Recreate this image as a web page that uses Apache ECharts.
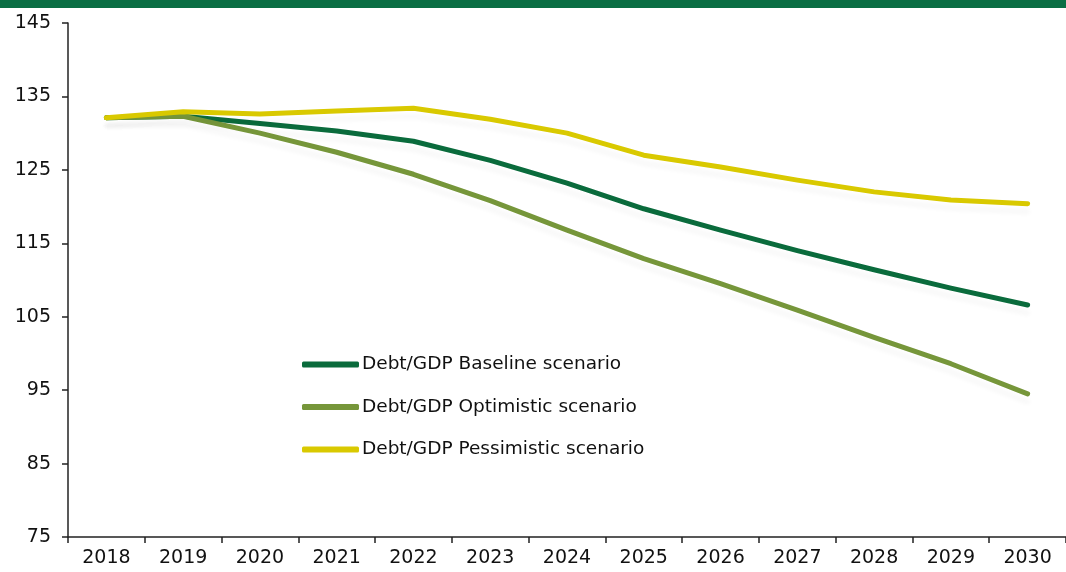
<!DOCTYPE html>
<html>
<head>
<meta charset="utf-8">
<script src="https://cdn.jsdelivr.net/npm/echarts@6/dist/echarts.min.js"></script>
<style>html,body{margin:0;padding:0;background:#fff}#c{width:1066px;height:572px}</style>
</head>
<body>
<div id="c"></div>
<script>
const years = ['2018','2019','2020','2021','2022','2023','2024','2025','2026','2027','2028','2029','2030'];
const baseline = [132.1,132.3,131.3,130.3,128.9,126.3,123.2,119.7,116.8,114.0,111.4,108.9,106.6];
const optimistic = [132.1,132.3,130.0,127.4,124.4,120.8,116.8,112.9,109.5,105.9,102.2,98.6,94.5];
const pessimistic = [132.1,132.9,132.6,133.0,133.4,131.9,130.0,127.0,125.4,123.6,122.0,120.9,120.4];
const seriesNames = ['Debt/GDP Baseline scenario','Debt/GDP Optimistic scenario','Debt/GDP Pessimistic scenario'];
const colors = ['#0a6b3c','#76963a','#d9c900'];

const chart = echarts.init(document.getElementById('c'));
const font = '"DejaVu Sans", sans-serif';
const mk = (name, data, color) => ({
  name, type: 'line', data, symbol: 'none', smooth: false,
  lineStyle: { width: 5, color, cap: 'round', join: 'round',
    shadowColor: 'rgba(0,0,0,0.03)', shadowBlur: 4, shadowOffsetY: 8 },
  itemStyle: { color }
});
chart.setOption({
  animation: false,
  graphic: [{ type: 'rect', left: 0, top: 0, shape: { width: 1066, height: 8 }, style: { fill: '#0a6e44' } }],
  grid: { left: 68, top: 23, bottom: 35, right: -8 },
  legend: {
    orient: 'vertical', left: 302, top: 354, padding: 0, itemWidth: 57, itemHeight: 6, itemGap: 21.5,
    icon: 'roundRect',
    textStyle: { fontFamily: font, fontSize: 18.5, color: '#111', padding: [0,0,0,-2], lineHeight: 21 },
    data: seriesNames
  },
  xAxis: {
    type: 'category', data: years, boundaryGap: true,
    axisLine: { lineStyle: { color: '#222', width: 1.5 } },
    axisTick: { show: true, length: 6, lineStyle: { color: '#222', width: 1.5 } },
    axisLabel: { fontFamily: font, fontSize: 19, color: '#111', margin: 12 }
  },
  yAxis: {
    type: 'value', min: 75, max: 145, interval: 10,
    splitLine: { show: false },
    axisLine: { show: true, lineStyle: { color: '#222', width: 1.5 } },
    axisTick: { show: true, length: 6, lineStyle: { color: '#222', width: 1.5 } },
    axisLabel: { fontFamily: font, fontSize: 19, color: '#111', margin: 17 }
  },
  series: [mk(seriesNames[0], baseline, colors[0]), mk(seriesNames[1], optimistic, colors[1]), mk(seriesNames[2], pessimistic, colors[2])]
});
</script>
</body>
</html>
